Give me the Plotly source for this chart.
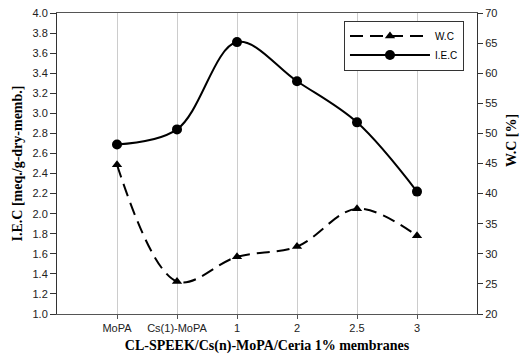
import plotly.graph_objects as go

categories = ["MoPA", "Cs(1)-MoPA", "1", "2", "2.5", "3"]
iec_values = [2.69, 2.84, 3.71, 3.32, 2.91, 2.22]
wc_values = [44.8, 25.4, 29.5, 31.2, 37.5, 33.0]

xpos = list(range(len(categories)))

fig = go.Figure()

fig.add_trace(go.Scatter(
    x=xpos, y=wc_values, name="W.C", yaxis="y2",
    mode="lines+markers",
    line=dict(color="black", width=2, dash="13px,7px", shape="spline", smoothing=1.0),
    marker=dict(symbol="triangle-up", size=9, color="black"),
))
fig.add_trace(go.Scatter(
    x=xpos, y=iec_values, name="I.E.C",
    mode="lines+markers",
    line=dict(color="black", width=2, shape="spline", smoothing=1.0),
    marker=dict(symbol="circle", size=10, color="black"),
))

tickfont = dict(family="Liberation Sans, Arial, sans-serif", size=11, color="#222")
titlefont = dict(family="Liberation Serif, Times New Roman, serif", size=14, color="black")

fig.update_layout(
    width=520, height=364,
    margin=dict(l=57, r=43, t=13, b=50, autoexpand=False),
    paper_bgcolor="white", plot_bgcolor="white",
    showlegend=True,
    legend=dict(
        x=0.969, y=0.975, xanchor="right", yanchor="top",
        bgcolor="white", bordercolor="#333", borderwidth=1,
        font=dict(family="Liberation Sans, Arial, sans-serif", size=10, color="black"),
        itemwidth=80, tracegroupgap=0,
    ),
    xaxis=dict(
        range=[-1, 6], automargin=False,
        tickmode="array", tickvals=xpos, ticktext=categories,
        showgrid=True, gridcolor="#cccccc", gridwidth=1,
        zeroline=False,
        showline=True, linecolor="#555", linewidth=1, mirror=True,
        ticks="outside", ticklen=4, tickcolor="#555",
        tickfont=tickfont,
        title=dict(text="<b>CL-SPEEK/Cs(n)-MoPA/Ceria 1% membranes</b>", font=titlefont, standoff=6),
    ),
    yaxis=dict(
        range=[1.0, 4.0], dtick=0.2, tickformat=".1f", automargin=False,
        showgrid=False, zeroline=False,
        showline=True, linecolor="#333", linewidth=1,
        ticks="outside", ticklen=6, tickcolor="#333",
        tickfont=tickfont,
        title=dict(text="<b>I.E.C [meq./g-dry-memb.]</b>", font=titlefont, standoff=6),
    ),
    yaxis2=dict(
        range=[20, 70], dtick=5, automargin=False,
        overlaying="y", side="right",
        showgrid=False, zeroline=False,
        showline=True, linecolor="#333", linewidth=1,
        ticks="outside", ticklen=5, tickcolor="#333",
        tickfont=tickfont,
    ),
)

fig.add_annotation(
    text="<b>W.C [%]</b>", textangle=-90,
    xref="paper", yref="paper",
    x=(511 - 57) / 420, y=(314 - 141) / 301,
    xanchor="center", yanchor="middle",
    showarrow=False, font=titlefont,
)

fig.write_html("out.html")
